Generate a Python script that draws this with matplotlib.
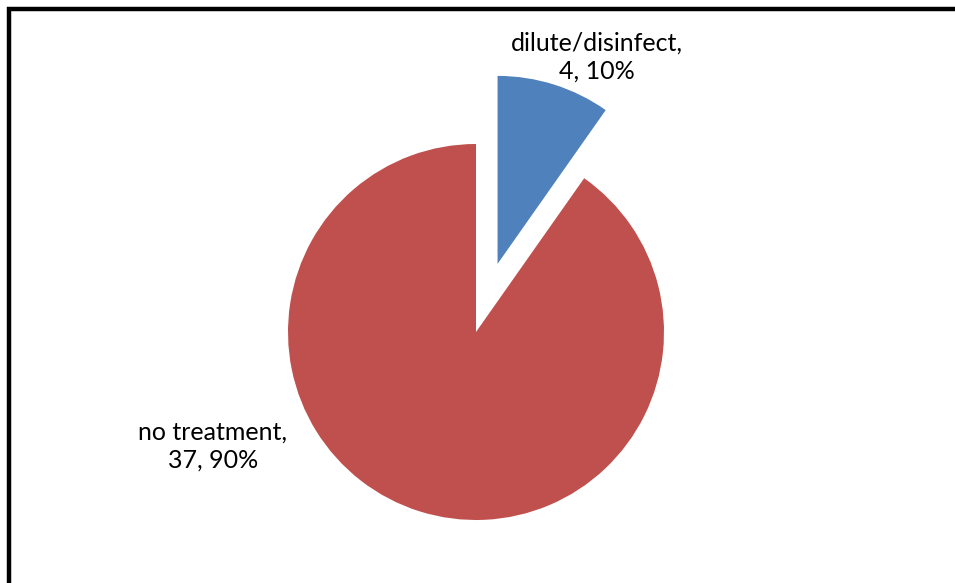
import matplotlib
matplotlib.use("Agg")
import matplotlib.pyplot as plt
from matplotlib.patches import Rectangle

categories = ["dilute/disinfect", "no treatment"]
values = [4, 37]
colors = ["#4F81BD", "#C0504D"]
explode_frac = [0.38, 0.0]

W, H = 955, 583
fig = plt.figure(figsize=(W / 100, H / 100), dpi=100)
ax = fig.add_axes([0, 0, 1, 1])

cx, cy, r = 476, H - 332, 188
ax.pie(values, colors=colors, explode=[e * r for e in explode_frac],
       startangle=90, counterclock=False, radius=r, center=(cx, cy),
       frame=True, wedgeprops=dict(linewidth=0))
ax.set_xlim(0, W)
ax.set_ylim(0, H)
ax.set_aspect("equal")
ax.axis("off")

total = sum(values)
label_pos = [(597, H - 57), (213, H - 446)]
for cat, v, (x, y) in zip(categories, values, label_pos):
    pct = round(100 * v / total)
    ax.text(x, y, f"{cat},\n{v}, {pct}%", ha="center", va="center",
            fontsize=18, family="Lato", linespacing=1.22, color="black")

fig.patches.append(Rectangle((9 / W, -0.1), 1.2, 1 - 9 / H + 0.1,
                             transform=fig.transFigure, fill=False,
                             edgecolor="black", linewidth=3.2))

fig.savefig("out.png", dpi=100, facecolor="white")
